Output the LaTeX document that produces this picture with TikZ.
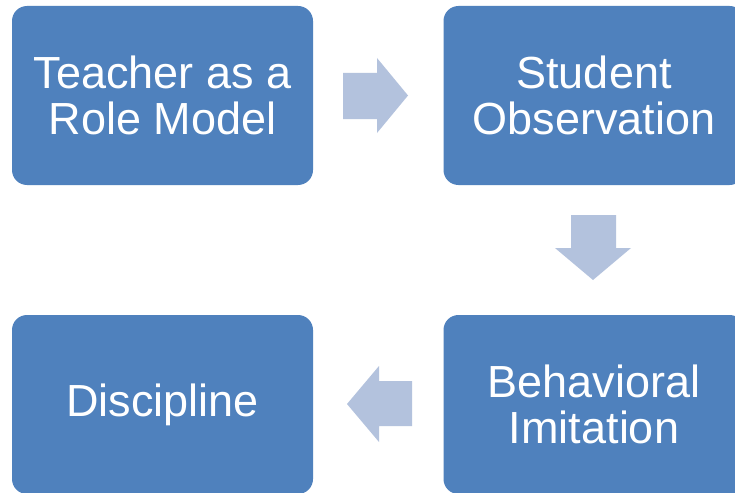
\documentclass[tikz,border=0pt]{standalone}
\usepackage{fontspec}
\setmainfont{Liberation Sans}
\definecolor{boxblue}{HTML}{4F81BD}
\definecolor{arrowblue}{HTML}{B3C2DD}
\tikzset{
  stagebox/.style={rectangle, rounded corners=15pt, fill=boxblue, draw=none,
    minimum width=301pt, minimum height=179pt, text=white, align=center,
    font=\fontsize{45pt}{46pt}\selectfont, inner sep=0pt},
  blockarrow/.style={fill=arrowblue, draw=none}
}
\begin{document}
\begin{tikzpicture}[x=1pt,y=-1pt]
\useasboundingbox (0,0) rectangle (735,492);
\clip (0,0) rectangle (735,492);
\fill[white] (0,0) rectangle (735,492);
\node[stagebox] (a) at (162.5,95.5) {Teacher as a\\Role Model};
\node[stagebox] (b) at (594,95.5) {Student\\Observation};
\node[stagebox] (c) at (594,404.5) {Behavioral\\Imitation};
\node[stagebox] (d) at (162.5,404.5) {Discipline};
% right arrow a -> b
\fill[blockarrow] (343,73) -- (377,73) -- (377,58) -- (408,95.5) -- (377,133) -- (377,119) -- (343,119) -- cycle;
% down arrow b -> c
\fill[blockarrow] (571,215) -- (616,215) -- (616,248) -- (631,248) -- (593,280) -- (555,248) -- (571,248) -- cycle;
% left arrow c -> d
\fill[blockarrow] (412,381) -- (412,426) -- (379,426) -- (379,442) -- (347,404) -- (379,366) -- (379,381) -- cycle;
\end{tikzpicture}
\end{document}
